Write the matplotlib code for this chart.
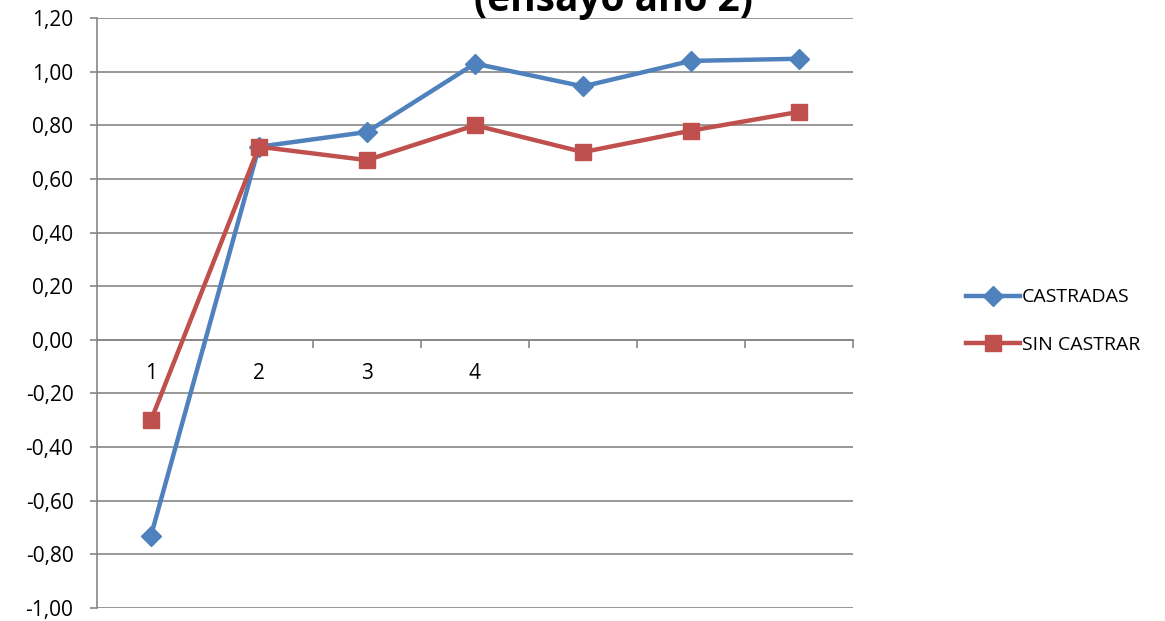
import numpy as np
import matplotlib; matplotlib.use("Agg")
import matplotlib.pyplot as plt

# data
categories = ["1", "2", "3", "4", "", "", ""]
castradas = [-0.73, 0.72, 0.775, 1.03, 0.945, 1.04, 1.048]
sin_castrar = [-0.30, 0.72, 0.67, 0.80, 0.70, 0.78, 0.85]
yticks = [-1.0, -0.8, -0.6, -0.4, -0.2, 0.0, 0.2, 0.4, 0.6, 0.8, 1.0, 1.2]

BLUE = "#4F81BD"; RED = "#C0504D"; GRID = "#868686"
plt.rcParams["font.family"] = ["Open Sans", "DejaVu Sans"]

fig = plt.figure(figsize=(11.65, 6.21), dpi=100)
ax = fig.add_axes([97/1165, 13/621, 756/1165, 590/621])
x = np.arange(len(categories))

ax.plot(x, castradas, color=BLUE, lw=3.2, marker="D", ms=10.5, label="CASTRADAS", zorder=3)
ax.plot(x, sin_castrar, color=RED, lw=3.2, marker="s", ms=12, label="SIN CASTRAR", zorder=3)

ax.set_xlim(-0.5, len(categories) - 0.5)
ax.set_ylim(-1.0, 1.2)
ax.set_yticks(yticks)
ax.set_yticklabels([f"{v:.2f}".replace(".", ",") for v in yticks], fontsize=15)
ax.yaxis.grid(True, color=GRID, lw=1.2)
ax.set_axisbelow(True)

for s in ("top", "right"):
    ax.spines[s].set_visible(False)
ax.spines["left"].set_color(GRID); ax.spines["left"].set_linewidth(1.2)
ax.spines["bottom"].set_position(("data", 0))
ax.spines["bottom"].set_color(GRID); ax.spines["bottom"].set_linewidth(1.2)
ax.tick_params(axis="y", color=GRID, length=5, width=1.2, pad=12)

ax.set_xticks(x)
ax.set_xticklabels(categories, fontsize=15)
ax.set_xticks(np.arange(0.5, len(categories)), minor=True)
ax.tick_params(axis="x", which="major", length=0, pad=17)
ax.tick_params(axis="x", which="minor", length=6, width=1.2, color=GRID)

# the chart title is cut off by the top edge in the original
fig.text(613/1165, 1 - 11/621, "(ensayo año 2)", ha="center", va="baseline",
         fontsize=28, fontweight="bold")

fig.legend(loc="center left", bbox_to_anchor=(948/1165, 1 - 321/621), frameon=False,
           fontsize=14, handlelength=2.8, handletextpad=0.1, labelspacing=1.5)

fig.savefig("out.png", dpi=100)
